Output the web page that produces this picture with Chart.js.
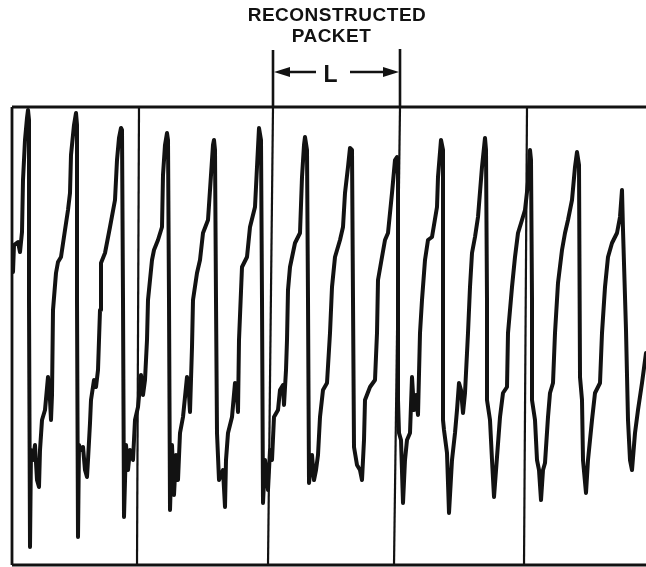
<!DOCTYPE html>
<html>
<head>
<meta charset="utf-8">
<script src="https://cdn.jsdelivr.net/npm/chart.js@4.4.1/dist/chart.umd.min.js"></script>
<style>
  html, body { margin: 0; padding: 0; background: #fff; }
  #wrap { position: relative; width: 646px; height: 567px; }
</style>
</head>
<body>
<div id="wrap"><canvas id="scopeCanvas"></canvas></div>
<script>
// Trace: time (samples from frame start) and level (above frame bottom)
const TRACE_T = [
  1, 2, 6, 8, 10, 11, 13, 15, 16, 17,
  17, 18, 19, 21, 23, 25, 27, 28, 30, 33, 36, 38, 39, 40, 41, 44, 46, 49, 53, 56, 58, 59, 62, 64, 65,
  65, 66, 67, 69, 71, 73, 75, 76, 78, 79, 82, 84, 86, 88, 89, 93, 98, 103, 105, 107, 109, 110,
  111, 112, 114, 116, 118, 121, 123, 126, 129, 131, 133, 135, 136, 140, 142, 146, 150, 151, 153, 155, 156,
  157, 158, 160, 162, 164, 166, 168, 171, 175, 177, 178, 180, 181, 185, 188, 191, 196, 199, 201, 202, 203,
  204, 205, 207, 209, 211, 213, 214, 216, 220, 223, 225, 226, 227, 230, 235, 238, 243, 245, 247, 249,
  250, 251, 253, 256, 258, 260, 262, 266, 268, 271, 272, 274, 275, 276, 278, 283, 288, 290, 292, 293, 295,
  296, 297, 300, 302, 304, 306, 308, 311, 315, 318, 320, 323, 328, 331, 333, 336, 338, 340,
  341, 342, 345, 348, 350, 352, 353, 358, 363, 365, 366, 370, 373, 376, 380, 383, 385, 386,
  386, 387, 389, 391, 393, 395, 398, 400, 402, 404, 406, 408, 410, 413, 416, 420, 425, 426, 429, 431,
  431, 431, 432, 435, 437, 440, 443, 445, 447, 449, 451, 453, 456, 458, 460, 463, 466, 470, 473, 474,
  475, 475, 478, 480, 482, 485, 488, 491, 495, 496, 500, 503, 506, 510, 513, 516, 518, 519,
  520, 520, 523, 525, 527, 529, 531, 533, 536, 538, 541, 543, 546, 550, 553, 556, 560, 563, 565, 567,
  568, 570, 571, 574, 576, 580, 583, 588, 590, 593, 596, 600, 605, 608, 610, 611,
  614, 616, 618, 620, 623, 626, 630, 634
];
const TRACE_V = [
  293, 320, 323, 313, 333, 385, 425, 447, 455, 445,
  265, 18, 115, 105, 120, 85, 78, 115, 145, 155, 188, 165, 145, 170, 255, 292, 303, 308, 335, 355, 372, 410, 440, 452, 440,
  265, 28, 120, 115, 118, 95, 88, 105, 142, 165, 185, 178, 195, 255, 302, 312, 338, 365, 405, 427, 437, 435,
  265, 48, 120, 95, 115, 105, 145, 158, 190, 170, 185, 225, 265, 305, 315, 325, 338, 390, 420, 432, 425,
  265, 55, 120, 70, 110, 85, 132, 148, 188, 170, 153, 218, 265, 292, 305, 332, 345, 390, 420, 425, 415,
  265, 132, 85, 90, 95, 58, 105, 132, 148, 182, 170, 153, 225, 298, 308, 338, 358, 398, 437, 425,
  265, 62, 105, 75, 115, 105, 148, 155, 175, 180, 160, 195, 225, 275, 298, 322, 332, 388, 420, 428, 415,
  265, 82, 110, 85, 95, 110, 148, 175, 182, 232, 278, 308, 325, 338, 372, 398, 417, 415,
  265, 118, 100, 95, 85, 125, 165, 178, 185, 232, 285, 308, 325, 332, 372, 405, 408, 390,
  165, 132, 125, 62, 105, 125, 132, 188, 155, 170, 150, 232, 265, 305, 325, 328, 358, 388, 425, 415,
  265, 145, 135, 112, 52, 105, 132, 155, 182, 175, 152, 172, 232, 278, 312, 328, 348, 398, 427, 415,
  265, 165, 145, 105, 68, 108, 148, 172, 178, 232, 278, 308, 332, 345, 355, 382, 415, 405,
  265, 165, 145, 105, 95, 65, 95, 102, 148, 172, 182, 232, 282, 315, 332, 345, 365, 398, 413, 400,
  188, 165, 105, 72, 105, 145, 172, 182, 232, 278, 308, 322, 332, 348, 375, 335,
  235, 145, 105, 95, 132, 155, 182, 212
];

// Frame: time span, height, and the division lines (top and bottom ends, slightly slanted)
const FRAME_T = [0, 640];
const FRAME_V = [0, 458];
const DIVIDER_TOP_T = [127, 261, 388, 515];
const DIVIDER_BOTTOM_T = [125, 256, 382, 512];

const TITLE_LINES = ['RECONSTRUCTED', 'PACKET'];
const SPAN_LABEL = 'L';

const INK = '#121212';

const tracePoints = TRACE_T.map((t, i) => ({ x: t, y: TRACE_V[i] }));

const frameSets = [
  // top, bottom, left edge
  [{ x: FRAME_T[0], y: FRAME_V[1] }, { x: FRAME_T[1], y: FRAME_V[1] }],
  [{ x: FRAME_T[0], y: FRAME_V[0] }, { x: FRAME_T[1], y: FRAME_V[0] }],
  [{ x: FRAME_T[0], y: FRAME_V[0] }, { x: FRAME_T[0], y: FRAME_V[1] }],
].map((pts, i) => ({
  data: pts,
  borderColor: INK,
  borderWidth: i === 0 ? 3 : 2.8,
  pointRadius: 0,
  clip: false,
}));

const dividerSets = DIVIDER_TOP_T.map((t, i) => ({
  data: [{ x: t, y: FRAME_V[1] }, { x: DIVIDER_BOTTOM_T[i], y: FRAME_V[0] }],
  borderColor: INK,
  borderWidth: 2.2,
  pointRadius: 0,
  clip: false,
}));

// header: title, span markers and the L arrow, placed off the divider scale values
const headerPlugin = {
  id: 'header',
  afterDraw(chart) {
    const { ctx, chartArea, scales } = chart;
    const xa = scales.x.getPixelForValue(DIVIDER_TOP_T[1]);
    const xb = scales.x.getPixelForValue(DIVIDER_TOP_T[2]);
    const mid = (xa + xb) / 2;
    ctx.save();
    ctx.fillStyle = INK;
    ctx.strokeStyle = INK;
    ctx.textAlign = 'center';
    ctx.textBaseline = 'alphabetic';
    ctx.font = 'bold 19px "Liberation Sans", Arial, sans-serif';
    ctx.letterSpacing = '0.5px';
    ctx.fillText(TITLE_LINES[0], mid + 0.5, 21);
    ctx.fillText(TITLE_LINES[1], mid - 5, 42);

    // vertical span markers
    ctx.lineWidth = 2.6;
    ctx.beginPath();
    ctx.moveTo(xa, 50); ctx.lineTo(xa, chartArea.top);
    ctx.moveTo(xb, 49); ctx.lineTo(xb, chartArea.top);
    ctx.stroke();

    // arrows
    const ay = 72;
    ctx.lineWidth = 2.6;
    ctx.beginPath();
    ctx.moveTo(xa + 12, ay); ctx.lineTo(xa + 43, ay);
    ctx.moveTo(xb - 50, ay); ctx.lineTo(xb - 12, ay);
    ctx.stroke();
    ctx.beginPath();
    ctx.moveTo(xa + 1, ay); ctx.lineTo(xa + 17, ay - 5); ctx.lineTo(xa + 17, ay + 5); ctx.closePath();
    ctx.moveTo(xb - 1, ay); ctx.lineTo(xb - 17, ay - 5); ctx.lineTo(xb - 17, ay + 5); ctx.closePath();
    ctx.fill();

    ctx.font = 'bold 23px "Liberation Sans", Arial, sans-serif';
    ctx.letterSpacing = '0px';
    ctx.fillText(SPAN_LABEL, mid - 6, 82);
    ctx.restore();
  },
};

new Chart(document.getElementById('scopeCanvas').getContext('2d'), {
  type: 'line',
  data: {
    datasets: [
      {
        data: tracePoints,
        borderColor: INK,
        borderWidth: 4,
        pointRadius: 0,
        tension: 0,
        borderJoinStyle: 'round',
        borderCapStyle: 'round',
        clip: false,
      },
      ...frameSets,
      ...dividerSets,
    ],
  },
  options: {
    responsive: true,
    maintainAspectRatio: false,
    animation: false,
    events: [],
    layout: { padding: { left: 12, top: 107, right: 0, bottom: 2 } },
    plugins: {
      legend: { display: false },
      tooltip: { enabled: false },
    },
    scales: {
      x: { type: 'linear', min: 0, max: 634, display: false },
      y: { type: 'linear', min: 0, max: 458, display: false },
    },
  },
  plugins: [headerPlugin],
});
</script>
</body>
</html>
